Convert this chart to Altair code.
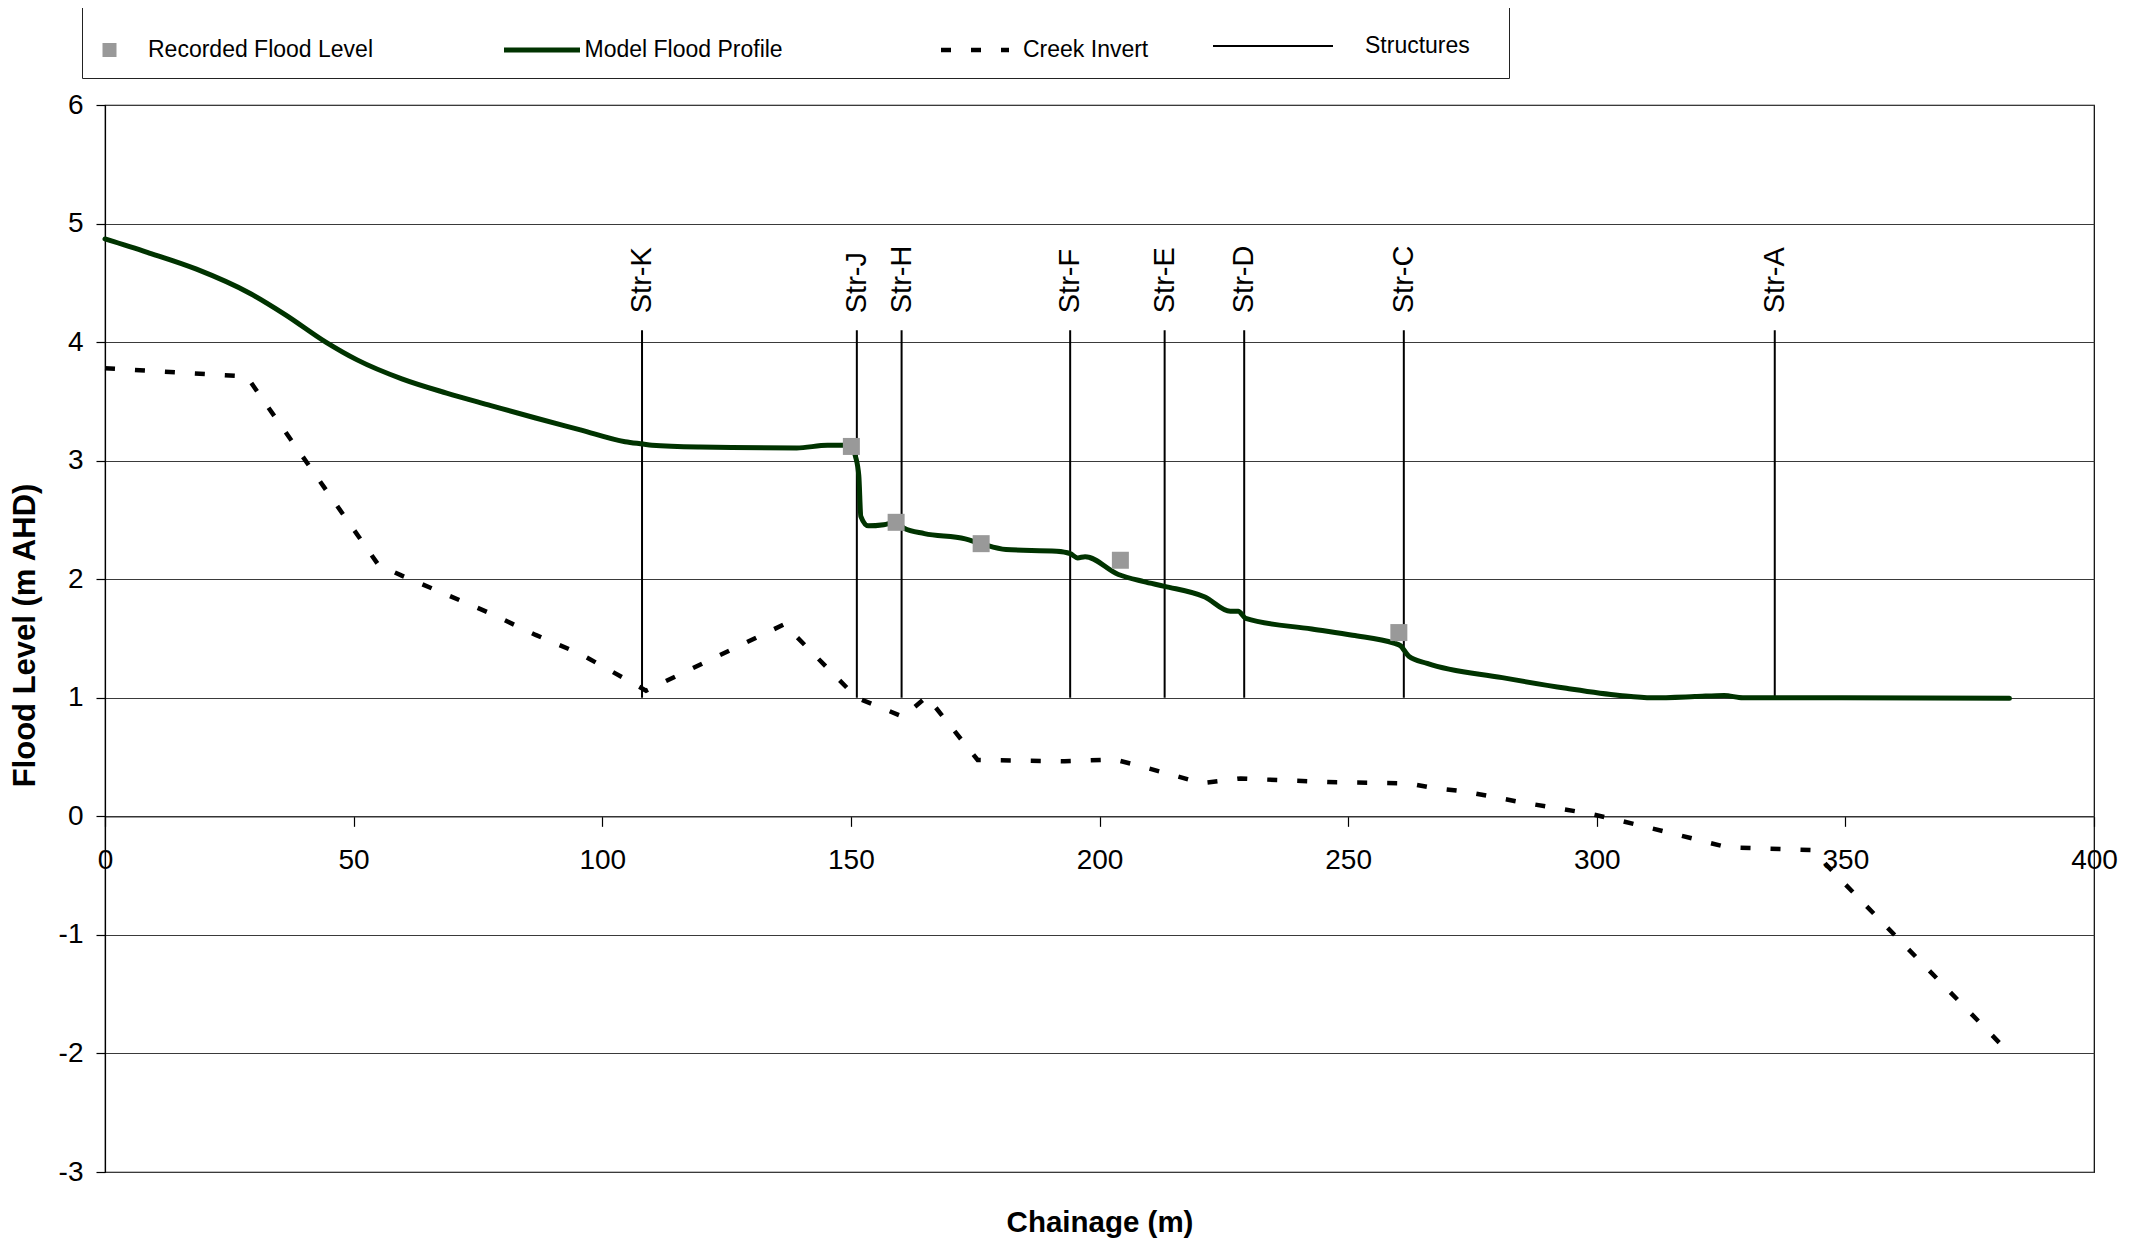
import altair as alt
import pandas as pd

# ---------------- data ----------------
MODEL_CH = [0, 8.5, 18.4, 29.2, 36.3, 44.4, 50.7, 59.7, 68.7, 77.6,
            86.6, 95.6, 104.6, 108.2, 110, 119.6, 139.1, 145.3, 148.4, 150.1,
            150.9, 151.6, 152.0, 153.5, 156.6, 159.1, 160.7, 164.8, 173.0, 176.2,
            181.2, 191.4, 194.1, 195.6, 197.1, 203.8, 208.9, 213.1, 221.2, 226.3,
            227.9, 229.4, 242.7, 250.9, 259.2, 260.5, 262.2, 265.9, 281, 293.9,
            304.6, 311.1, 319.7, 325.6, 329.4, 336, 383]
MODEL_LEVEL = [4.87, 4.757, 4.615, 4.41, 4.23, 4.0, 3.85, 3.69, 3.57, 3.465,
               3.36, 3.26, 3.16, 3.14, 3.13, 3.115, 3.107, 3.13, 3.13, 3.12,
               3.04, 2.87, 2.53, 2.45, 2.46, 2.48, 2.43, 2.385, 2.34, 2.30,
               2.25, 2.236, 2.216, 2.18, 2.19, 2.04, 1.98, 1.94, 1.85, 1.73,
               1.73, 1.67, 1.58, 1.527, 1.46, 1.44, 1.35, 1.29, 1.17, 1.08,
               1.02, 1.0, 1.01, 1.02, 1.0, 1.0, 0.995]

REC_CH = [150.1, 159.1, 176.2, 204.2, 260.2]
REC_LEVEL = [3.12, 2.48, 2.30, 2.16, 1.55]

CREEK_CH = [0, 28.5, 55, 59.7, 68.7, 77.6, 86.6, 95.6, 104.6, 108.8,
            136.6, 151.2, 160.5, 165.3, 175.5, 193, 203, 206.9, 213, 220.5,
            228.4, 233.5, 245.8, 262.2, 267, 273.4, 285.3, 298.2, 304.1, 315.4,
            326.1, 343.3, 382.6]
CREEK_LEVEL = [3.78, 3.71, 2.12, 2.03, 1.87, 1.71, 1.53, 1.37, 1.16, 1.06,
               1.62, 1.0, 0.84, 1.01, 0.475, 0.465, 0.48, 0.438, 0.368, 0.28,
               0.32, 0.31, 0.29, 0.278, 0.24, 0.21, 0.115, 0.026, -0.03, -0.146,
               -0.26, -0.285, -1.98]

STR_NAMES = ["Str-K", "Str-J", "Str-H", "Str-F", "Str-E", "Str-D", "Str-C", "Str-A"]
STR_CH = [108.0, 151.2, 160.2, 194.1, 213.1, 229.1, 261.2, 335.8]
STR_BASE = 1.0
STR_TOP = 4.1

X_TICKS = [0, 50, 100, 150, 200, 250, 300, 350, 400]
Y_TICKS = [-3, -2, -1, 0, 1, 2, 3, 4, 5, 6]

SERIES = ["Recorded Flood Level", "Model Flood Profile", "Creek Invert", "Structures"]

# ---------------- tables ----------------
model_df = pd.DataFrame({"chainage": MODEL_CH, "level": MODEL_LEVEL, "series": SERIES[1]})
rec_df = pd.DataFrame({"chainage": REC_CH, "level": REC_LEVEL, "series": SERIES[0]})
creek_df = pd.DataFrame({"chainage": CREEK_CH, "level": CREEK_LEVEL, "series": SERIES[2]})
struct_df = pd.DataFrame({"name": STR_NAMES, "chainage": STR_CH,
                          "base": STR_BASE, "top": STR_TOP, "series": SERIES[3]})

FONT = "Liberation Sans"
W, H = 1989, 1067
GREEN = "#003300"
GREY = "#999999"

x_scale = alt.Scale(domain=[0, 400], nice=False, zero=False)
y_scale = alt.Scale(domain=[-3, 6], nice=False, zero=False)

x_axis = alt.Axis(values=X_TICKS, offset=-H / 3, grid=False,
                  tickSize=10, tickColor="black", tickWidth=1.2,
                  domainColor="#333333", domainWidth=1.2,
                  labelFontSize=28, labelPadding=20, labelFlush=False,
                  labelExpr="datum.value + ''",
                  title="Chainage (m)", titleFontSize=29.5, titleFontWeight="bold",
                  titleY=405.7, titleBaseline="middle")
y_axis = alt.Axis(values=Y_TICKS, grid=True, gridColor="#3a3a3a", gridWidth=1.2,
                  tickSize=9, tickColor="black", tickWidth=1.2,
                  domainColor="black", domainWidth=1.2,
                  labelFontSize=28, labelPadding=13, labelFlush=False,
                  labelExpr="datum.value + ''",
                  title="Flood Level (m AHD)", titleFontSize=31, titleFontWeight="bold",
                  titleX=-80, titleY=530, titleBaseline="middle", titleAlign="center")


def X(field="chainage:Q"):
    return alt.X(field, scale=x_scale, axis=x_axis)


def Y(field="level:Q"):
    return alt.Y(field, scale=y_scale, axis=y_axis)


NBSP = "\u00a0"
ZWSP = "\u200b"
COMMON = dict(labelFont=FONT, labelFontSize=23, labelColor="black",
              labelLimit=1700, clipHeight=23)

# The framed legend (left entry) carries the box round all four entries.
# Its blank title (non-breaking spaces wrapped in zero-width chars so they are
# not trimmed) spans the box width, above the entries.
BOX_TITLE = ZWSP + NBSP * 502 + ZWSP
leg_rec = alt.Legend(orient="none", legendX=-23, legendY=-98, padding=16,
                     strokeColor="#222222", title=BOX_TITLE, titleFontSize=10,
                     titlePadding=5.5, titleLimit=2000,
                     symbolType="square", symbolSize=196, labelOffset=27, **COMMON)
leg_model = alt.Legend(orient="none", legendX=396.5, legendY=-66.5, padding=0,
                       symbolType="stroke", symbolSize=5776, symbolStrokeWidth=5,
                       labelOffset=2, **COMMON)
leg_creek = alt.Legend(orient="none", legendX=833.5, legendY=-66.5, padding=0,
                       symbolType="stroke", symbolSize=4624, symbolStrokeWidth=4.5,
                       symbolDash=[10, 20], labelOffset=11.5, **COMMON)
leg_struct = alt.Legend(orient="none", legendX=1107, legendY=-70.5, padding=0,
                        symbolType="stroke", symbolSize=14400, symbolStrokeWidth=2,
                        labelOffset=31, **COMMON)

rules = alt.Chart(struct_df).mark_rule(strokeWidth=2).encode(
    x=X(),
    y=Y("base:Q"),
    y2="top:Q",
    color=alt.Color("series:N", title=None,
                    scale=alt.Scale(domain=[SERIES[3]], range=["#000000"]),
                    legend=leg_struct),
)

labels = alt.Chart(struct_df).mark_text(
    angle=270, align="left", baseline="middle", dx=17,
    font=FONT, fontSize=29, color="black"
).encode(x=X(), y=Y("top:Q"), text="name:N")

creek = alt.Chart(creek_df).mark_line(
    strokeWidth=4.5, strokeDash=[10, 20], strokeCap="butt"
).encode(
    x=X(), y=Y(),
    color=alt.Color("series:N", title=None,
                    scale=alt.Scale(domain=[SERIES[2]], range=["#000000"]),
                    legend=leg_creek),
)

model = alt.Chart(model_df).mark_line(
    strokeWidth=5, interpolate="monotone", strokeCap="round", strokeJoin="round"
).encode(
    x=X(), y=Y(),
    color=alt.Color("series:N", title=None,
                    scale=alt.Scale(domain=[SERIES[1]], range=[GREEN]),
                    legend=leg_model),
)

points = alt.Chart(rec_df).mark_point(
    shape="square", filled=True, size=289, opacity=1
).encode(
    x=X(), y=Y(),
    color=alt.Color("series:N",
                    scale=alt.Scale(domain=[SERIES[0]], range=[GREY]),
                    legend=leg_rec),
)

chart = (
    alt.layer(rules, labels, creek, model, points)
    .resolve_scale(color="independent")
    .properties(width=W, height=H,
                padding={"left": 97, "top": 97, "right": 30, "bottom": 75},
                autosize=alt.AutoSizeParams(type="none"))
    .configure(font=FONT)
    .configure_view(stroke="black", strokeWidth=1.2)
    .configure_axis(labelFont=FONT, titleFont=FONT, labelColor="black", titleColor="black")
    .configure_legend(labelFont=FONT, titleFont=FONT)
)

chart.save("out.html", embed_options={"renderer": "svg", "actions": False})
